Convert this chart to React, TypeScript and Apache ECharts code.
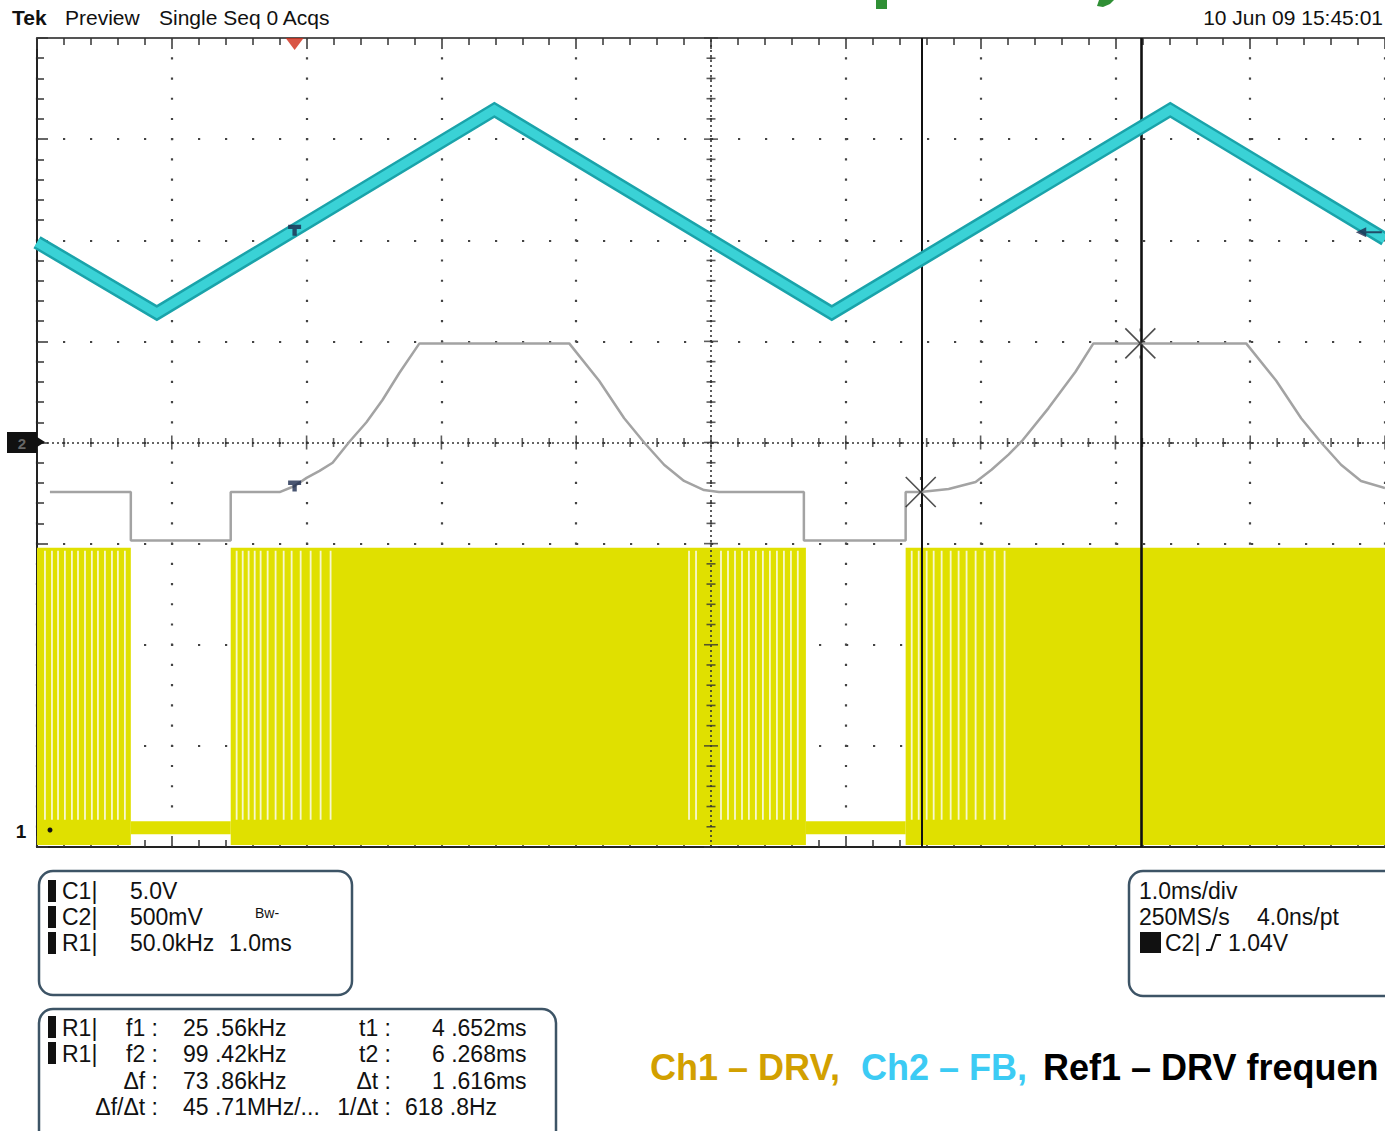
import React, { useEffect, useRef } from "react";
import * as echarts from "echarts";

// ---- Axes: horizontal = screen divisions of 1.0 ms (0 = left edge), vertical = divisions (0 = bottom)
const timeRange = [0, 10];
const divRange = [0, 8];

// ---- Ch2 (FB) triangle wave, in divisions
const fbTimes = [0, 0.889, 3.393, 5.896, 8.407, 10];
const fbLevels = [5.98, 5.28, 7.29, 5.28, 7.29, 6.01];

// ---- Ref1 (DRV frequency) trace, in divisions
const refTimes = [
  0.096, 0.696, 0.696, 1.437, 1.437, 1.8, 1.911, 2.0, 2.096, 2.193, 2.319, 2.444, 2.563, 2.689, 2.837,
  3.948, 4.17, 4.356, 4.504, 4.652, 4.8, 4.948, 5.059, 5.689, 5.689, 6.444, 6.444, 6.556, 6.763, 6.963,
  7.081, 7.207, 7.304, 7.504, 7.704, 7.837, 8.97, 9.193, 9.378, 9.526, 9.674, 9.822, 10,
];
const refLevels = [
  3.51, 3.51, 3.03, 3.03, 3.51, 3.51, 3.57, 3.65, 3.72, 3.8, 4.01, 4.2, 4.42, 4.69, 4.98,
  4.98, 4.61, 4.24, 4.0, 3.78, 3.62, 3.53, 3.51, 3.51, 3.03, 3.03, 3.51, 3.51, 3.54, 3.61,
  3.73, 3.88, 4.01, 4.34, 4.7, 4.98, 4.98, 4.61, 4.24, 4.0, 3.78, 3.62, 3.55,
];

// ---- Ch1 (DRV) switching bursts, in divisions
const drvBurstStart = [0, 1.437, 6.444];
const drvBurstEnd = [0.696, 5.704, 10];
const drvIdleStart = [0.696, 5.704];
const drvIdleEnd = [1.437, 6.444];
const drvHigh = 2.96;
const drvFloor = 0.02;
const drvLow = 0.19;
const drvGapTimes = [
  0.059, 0.111, 0.156, 0.207, 0.259, 0.304, 0.356, 0.407, 0.452, 0.504, 0.556, 0.6, 0.652,
  1.481, 1.526, 1.57, 1.615, 1.659, 1.711, 1.77, 1.83, 1.889, 1.956, 2.03, 2.104, 2.178,
  4.837, 4.889, 5.074, 5.126, 5.178, 5.23, 5.281, 5.333, 5.385, 5.437, 5.489, 5.541, 5.593, 5.644,
  6.489, 6.541, 6.6, 6.652, 6.711, 6.778, 6.837, 6.896, 6.963, 7.03, 7.104, 7.178,
];

// ---- Trigger / cursors / references
const triggerTime = 1.911;
const ch2Ground = 4;
const ch2VoltsPerDiv = 0.5;
const triggerVolts = 1.04;
const triggerLevel = ch2Ground + triggerVolts / ch2VoltsPerDiv;
const cursorTimes = [6.556, 8.185];
const cursorLevels = [3.51, 4.98];
const triggerMarkFb = 6.1;
const triggerMarkRef = 3.57;

// ---- Texts
const headerLeft = ["Tek", "Preview", "Single Seq 0 Acqs"];
const headerRight = "10 Jun 09 15:45:01";
const box1Labels = ["C1|", "C2|", "R1|"];
const box1Values = ["5.0V", "500mV", "50.0kHz"];
const box2Labels = ["f1 :", "f2 :", "Δf :", "Δf/Δt :"];
const box2Values = ["25 .56kHz", "99 .42kHz", "73 .86kHz", "45 .71MHz/..."];
const box2Labels2 = ["t1 :", "t2 :", "Δt :", "1/Δt :"];
const box2Values2 = ["4 .652ms", "6 .268ms", "1 .616ms", "618 .8Hz"];
const box3Lines = ["1.0ms/div", "250MS/s", "4.0ns/pt", "C2|", "1.04V"];
const captionParts = ["Ch1 – DRV, ", "Ch2 – FB, ", "Ref1 – DRV frequen"];
const captionColors = ["#d2a000", "#3ccbf4", "#000000"];

const FONT = '"Liberation Sans", Arial, Helvetica, sans-serif';
const YELLOW = "#e0e000";

function txt(text: string, x: number, y: number, o: any = {}) {
  return {
    type: "text",
    x,
    y,
    z: 100,
    style: {
      text,
      fill: o.fill || "#111",
      font: o.font || `23px ${FONT}`,
      align: o.align || "left",
      verticalAlign: "middle",
    },
  };
}

function box(x: number, y: number, w: number, h: number) {
  return {
    type: "rect",
    z: 90,
    shape: { x, y, width: w, height: h, r: 14 },
    style: { fill: "#fff", stroke: "#3d5466", lineWidth: 2.5 },
  };
}

function bar(x: number, y: number, w: number, h: number) {
  return { type: "rect", z: 100, shape: { x, y, width: w, height: h }, style: { fill: "#111" } };
}

export default function App() {
  const ref = useRef<HTMLDivElement>(null);

  useEffect(() => {
    if (!ref.current) return;
    const chart = echarts.init(ref.current, null, { renderer: "svg" });

    const centreTicks: any[] = [];
    for (let i = 0; i <= 50; i++) {
      centreTicks.push({ value: [i * 0.2, 4], symbolSize: i % 5 === 0 ? [1.6, 14] : [1.6, 9] });
    }
    for (let j = 0; j <= 40; j++) {
      centreTicks.push({ value: [5, j * 0.2], symbolSize: j % 5 === 0 ? [14, 1.6] : [9, 1.6] });
    }

    const graphic: any[] = [];
    // header
    graphic.push(txt(headerLeft[0], 12, 17, { font: `bold 21px ${FONT}` }));
    graphic.push(txt(headerLeft[1], 65, 17, { font: `21px ${FONT}` }));
    graphic.push(txt(headerLeft[2], 159, 17, { font: `21px ${FONT}` }));
    graphic.push(txt(headerRight, 1383, 17, { font: `21px ${FONT}`, align: "right" }));
    // fragments of a green slide title cut off by the top edge
    graphic.push({ type: "rect", z: 100, shape: { x: 876, y: 0, width: 11, height: 9 }, style: { fill: "#2f8f35" } });
    graphic.push({
      type: "polygon",
      z: 100,
      shape: { points: [[1099, 0], [1114, 0], [1110, 4], [1103, 7], [1097, 6]] },
      style: { fill: "#2f8f35" },
    });

    // left channel markers
    graphic.push({ type: "rect", z: 100, shape: { x: 7, y: 432, width: 30, height: 21 }, style: { fill: "#111" } });
    graphic.push(txt("2", 22, 443, { font: `bold 15px ${FONT}`, fill: "#666", align: "center" }));
    graphic.push({ type: "polygon", z: 100, shape: { points: [[37, 437], [45, 442], [37, 447]] }, style: { fill: "#111" } });
    graphic.push(txt("1", 21, 831, { font: `bold 19px ${FONT}`, align: "center" }));
    graphic.push({ type: "circle", z: 100, shape: { cx: 50, cy: 830, r: 2.5 }, style: { fill: "#111" } });

    // box 1
    graphic.push(box(39, 871, 313, 124));
    [880, 906, 932].forEach((y) => graphic.push(bar(48, y, 8, 22)));
    box1Labels.forEach((t, i) => graphic.push(txt(t, 62, 891 + i * 26)));
    box1Values.forEach((t, i) => graphic.push(txt(t, 130, 891 + i * 26)));
    graphic.push(txt("Bw-", 255, 913, { font: `14px ${FONT}` }));
    graphic.push(txt("1.0ms", 229, 943));

    // box 2
    graphic.push(box(39, 1009, 517, 140));
    [1016, 1042].forEach((y) => graphic.push(bar(48, y, 8, 22)));
    ["R1|", "R1|"].forEach((t, i) => graphic.push(txt(t, 62, 1028 + i * 26)));
    const rowY = [1028, 1054, 1081, 1107];
    box2Labels.forEach((t, i) => graphic.push(txt(t, 158, rowY[i], { align: "right" })));
    box2Values.forEach((t, i) => graphic.push(txt(t, 183, rowY[i])));
    box2Labels2.forEach((t, i) => graphic.push(txt(t, 391, rowY[i], { align: "right" })));
    box2Values2.forEach((t, i) => graphic.push(txt(t, i === 3 ? 405 : 432, rowY[i])));

    // box 3
    graphic.push(box(1129, 871, 290, 125));
    graphic.push(txt(box3Lines[0], 1139, 891));
    graphic.push(txt(box3Lines[1], 1139, 917));
    graphic.push(txt(box3Lines[2], 1257, 917));
    graphic.push(bar(1140, 932, 21, 21));
    graphic.push(txt(box3Lines[3], 1165, 943));
    graphic.push({
      type: "polyline",
      z: 100,
      shape: { points: [[1206, 950], [1211, 950], [1216, 935], [1221, 935]] },
      style: { stroke: "#111", lineWidth: 2, fill: null },
    });
    graphic.push(txt(box3Lines[4], 1228, 943));

    // caption
    const capX = [650, 861, 1043];
    captionParts.forEach((t, i) =>
      graphic.push(txt(t, capX[i], 1067, { font: `bold 36px ${FONT}`, fill: captionColors[i] }))
    );

    const option: any = {
      animation: false,
      backgroundColor: "#ffffff",
      grid: { left: 37, top: 38, width: 1350, height: 809 },
      xAxis: [
        {
          type: "value",
          min: timeRange[0],
          max: timeRange[1],
          interval: 1,
          position: "bottom",
          axisLine: { show: true, lineStyle: { color: "#222", width: 2 } },
          axisTick: { show: true, inside: true, length: 11, lineStyle: { color: "#333", width: 1.5 } },
          minorTick: { show: true, splitNumber: 5, length: 7, lineStyle: { color: "#333", width: 1.5 } },
          axisLabel: { show: false },
          splitLine: {
            show: true,
            lineStyle: { color: "#444", width: 2.2, type: [2.2, 18.02], dashOffset: 1.1 },
          },
        },
        {
          type: "value",
          min: timeRange[0],
          max: timeRange[1],
          interval: 1,
          position: "top",
          axisLine: { show: true, lineStyle: { color: "#555", width: 2 } },
          axisTick: { show: true, inside: true, length: 11, lineStyle: { color: "#333", width: 1.5 } },
          minorTick: { show: true, splitNumber: 5, length: 7, lineStyle: { color: "#333", width: 1.5 } },
          axisLabel: { show: false },
          splitLine: { show: false },
        },
      ],
      yAxis: [
        {
          type: "value",
          min: divRange[0],
          max: divRange[1],
          interval: 1,
          position: "left",
          axisLine: { show: true, lineStyle: { color: "#222", width: 2 } },
          axisTick: { show: true, inside: true, length: 11, lineStyle: { color: "#333", width: 1.5 } },
          minorTick: { show: true, splitNumber: 5, length: 7, lineStyle: { color: "#333", width: 1.5 } },
          axisLabel: { show: false },
          splitLine: {
            show: true,
            lineStyle: { color: "#444", width: 2.2, type: [2.2, 24.8], dashOffset: 1.1 },
          },
        },
      ],
      graphic,
      series: [
        {
          name: "Ch1 DRV bursts",
          type: "custom",
          z: 2,
          clip: true,
          encode: { x: [0, 1], y: [2, 3] },
          data: drvBurstStart.map((s, i) => [s, drvBurstEnd[i], drvHigh, drvFloor]),
          renderItem: (_p: any, api: any) => {
            const a = api.coord([api.value(0), api.value(2)]);
            const b = api.coord([api.value(1), api.value(3)]);
            return {
              type: "rect",
              shape: { x: a[0], y: a[1], width: b[0] - a[0], height: b[1] - a[1] },
              style: { fill: YELLOW },
            };
          },
        },
        {
          name: "Ch1 DRV idle",
          type: "custom",
          z: 2,
          clip: true,
          encode: { x: [0, 1], y: [2, 3] },
          data: drvIdleStart.map((s, i) => [s, drvIdleEnd[i], drvLow + 0.065, drvLow - 0.065]),
          renderItem: (_p: any, api: any) => {
            const a = api.coord([api.value(0), api.value(2)]);
            const b = api.coord([api.value(1), api.value(3)]);
            return {
              type: "rect",
              shape: { x: a[0], y: a[1], width: b[0] - a[0], height: b[1] - a[1] },
              style: { fill: YELLOW },
            };
          },
        },
        {
          name: "Ch1 DRV gaps",
          type: "custom",
          z: 3,
          clip: true,
          encode: { x: 0, y: [1, 2] },
          data: drvGapTimes.map((t) => [t, drvHigh - 0.03, drvLow + 0.08]),
          renderItem: (_p: any, api: any) => {
            const a = api.coord([api.value(0), api.value(1)]);
            const b = api.coord([api.value(0), api.value(2)]);
            return {
              type: "line",
              shape: { x1: a[0], y1: a[1], x2: b[0], y2: b[1] },
              style: { stroke: "#f7f7d0", lineWidth: 1.8 },
            };
          },
        },
        {
          name: "graticule",
          type: "scatter",
          z: 4,
          silent: true,
          symbol: "rect",
          itemStyle: { color: "#333" },
          data: centreTicks,
          markLine: {
            silent: true,
            symbol: "none",
            label: { show: false },
            lineStyle: { color: "#333", width: 1.6, type: [2, 3] },
            data: [{ xAxis: 5 }, { yAxis: 4 }],
          },
        },
        {
          name: "Ref1",
          type: "line",
          z: 5,
          symbol: "none",
          lineStyle: { color: "#a3a3a3", width: 2.5 },
          data: refTimes.map((t, i) => [t, refLevels[i]]),
        },
        {
          name: "Ch2 FB edge",
          type: "line",
          z: 6,
          symbol: "none",
          lineStyle: { color: "#1aa3aa", width: 14, join: "miter" },
          data: fbTimes.map((t, i) => [t, fbLevels[i]]),
        },
        {
          name: "Ch2 FB",
          type: "line",
          z: 7,
          symbol: "none",
          lineStyle: { color: "#3ad2d6", width: 9, join: "miter" },
          data: fbTimes.map((t, i) => [t, fbLevels[i]]),
        },
        {
          name: "cursors",
          type: "scatter",
          z: 8,
          symbol: "path://M0,0L10,10M10,0L0,10M5,0L5,1M5,9L5,10",
          symbolSize: 30,
          itemStyle: { color: "rgba(0,0,0,0)", borderColor: "#222", borderWidth: 1.6 },
          data: cursorTimes.map((t, i) => [t, cursorLevels[i]]),
          markLine: {
            silent: true,
            symbol: "none",
            label: { show: false },
            lineStyle: { color: "#111", width: 2, type: "solid" },
            data: [{ xAxis: cursorTimes[0] }, { xAxis: cursorTimes[1], lineStyle: { width: 2.6 } }],
          },
        },
        {
          name: "trigger marks",
          type: "scatter",
          z: 9,
          symbol: "path://M0,0H12V4H8V10H4V4H0Z",
          symbolSize: [13, 11],
          itemStyle: { color: "#1b2a4e" },
          data: [
            [triggerTime, triggerMarkFb],
            [triggerTime, triggerMarkRef],
          ],
        },
        {
          name: "trigger position",
          type: "scatter",
          z: 9,
          clip: false,
          symbol: "triangle",
          symbolRotate: 180,
          symbolSize: [18, 12],
          symbolOffset: [0, 6],
          itemStyle: { color: "#cf2a16" },
          data: [[triggerTime, divRange[1]]],
        },
        {
          name: "trigger level",
          type: "scatter",
          z: 9,
          clip: false,
          symbol: "path://M0,5L8,0L8,4L20,4L20,6L8,6L8,10Z",
          symbolSize: [26, 10],
          itemStyle: { color: "#1b2a4e" },
          data: [[9.88, triggerLevel]],
        },
      ],
    };

    chart.setOption(option);
    return () => chart.dispose();
  }, []);

  return (
    <div
      ref={ref}
      style={{ position: "absolute", left: 0, top: 0, width: 1385, height: 1131, background: "#fff" }}
    />
  );
}
